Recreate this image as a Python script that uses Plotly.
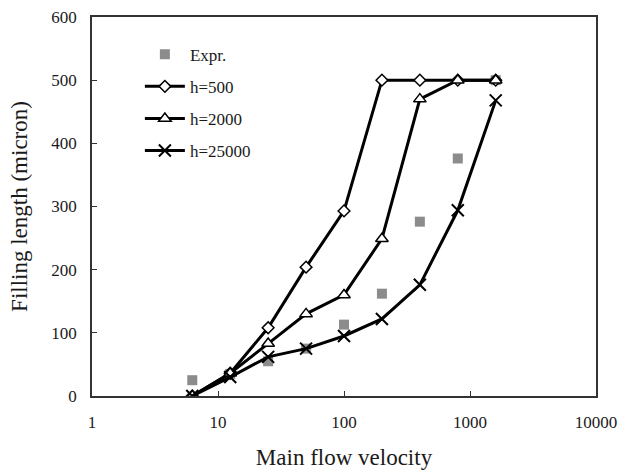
import plotly.graph_objects as go

velocity = [6.25, 12.5, 25, 50, 100, 200, 400, 800, 1600]
expr = [25, 35, 55, 75, 113, 162, 276, 376, 500]
h500 = [0, 36, 108, 204, 293, 500, 500, 500, 500]
h2000 = [0, 36, 83, 130, 160, 249, 470, 500, 500]
h25000 = [0, 30, 62, 75, 95, 122, 176, 294, 468]

serif = "Liberation Serif, Times New Roman, serif"

fig = go.Figure()
fig.add_trace(go.Scatter(x=velocity, y=expr, mode="markers", name="Expr.",
                         legendgroup="a",
                         marker=dict(symbol="square", size=10, color="#8c8c8c")))
fig.add_trace(go.Scatter(x=velocity, y=h500, mode="lines+markers", name="h=500",
                         legendgroup="b",
                         line=dict(color="black", width=3),
                         marker=dict(symbol="diamond", size=9, color="white",
                                     line=dict(color="black", width=1.5))))
fig.add_trace(go.Scatter(x=velocity, y=h2000, mode="lines+markers", name="h=2000",
                         legendgroup="c",
                         line=dict(color="black", width=3),
                         marker=dict(symbol="triangle-up", size=11, color="white",
                                     line=dict(color="black", width=1.5))))
fig.add_trace(go.Scatter(x=velocity, y=h25000, mode="lines+markers", name="h=25000",
                         legendgroup="d",
                         line=dict(color="black", width=3),
                         marker=dict(symbol="x-thin", size=12, color="black",
                                     line=dict(color="black", width=2))))

fig.update_layout(
    width=618, height=470,
    margin=dict(l=92, r=22, t=17, b=74, autoexpand=False),
    paper_bgcolor="white", plot_bgcolor="white",
    font=dict(family=serif, size=17, color="#1a1a1a"),
    showlegend=True,
    legend=dict(x=0.095, y=0.948, xanchor="left", yanchor="top",
                bgcolor="rgba(0,0,0,0)", tracegroupgap=7,
                traceorder="grouped", itemwidth=40,
                font=dict(family=serif, size=17, color="#1a1a1a")),
    xaxis=dict(type="log", range=[0, 4], showgrid=False, zeroline=False,
               automargin=False, ticklabeloverflow="allow",
               tickvals=[1, 10, 100, 1000, 10000],
               ticktext=["1", "10", "100", "1000", "10000"],
               ticks="inside", ticklen=5, tickcolor="#333",
               ticklabelstandoff=10,
               showline=True, linecolor="#333", linewidth=1.5, mirror=True,
               title=dict(text="Main flow velocity", font=dict(size=23, family=serif), standoff=19),
               tickfont=dict(size=17, family=serif)),
    yaxis=dict(range=[0, 600], showgrid=False, zeroline=False,
               automargin=False, ticklabeloverflow="allow",
               tickvals=[0, 100, 200, 300, 400, 500, 600],
               ticks="inside", ticklen=5, tickcolor="#333",
               ticklabelstandoff=10,
               showline=True, linecolor="#333", linewidth=1.5, mirror=True,
               title=dict(text="Filling length (micron)", font=dict(size=23, family=serif), standoff=17),
               tickfont=dict(size=17, family=serif)),
)

fig.write_html(
    "out.html",
    config={"displayModeBar": False},
    post_script="document.body.style.margin='0';document.body.style.overflow='hidden';",
)
